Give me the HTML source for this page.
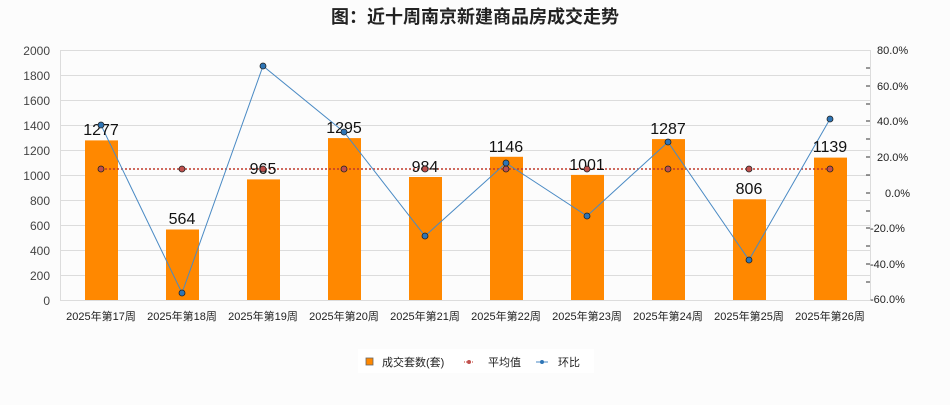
<!DOCTYPE html>
<html><head><meta charset="utf-8"><style>
body{margin:0;background:#fcfcfc;}
text{font-family:"Liberation Sans","Noto Sans CJK SC",sans-serif;}
</style></head><body>
<svg width="950" height="400" viewBox="0 0 950 400" xmlns="http://www.w3.org/2000/svg">
<rect width="950" height="400" fill="#fcfcfc"/>
<text x="475" y="23" text-anchor="middle" font-size="18" font-weight="bold" fill="#222">图：近十周南京新建商品房成交走势</text>
<g stroke="#dcdcdc" stroke-width="1">
<line x1="60" y1="50.5" x2="870" y2="50.5"/><line x1="60" y1="75.5" x2="870" y2="75.5"/><line x1="60" y1="100.5" x2="870" y2="100.5"/><line x1="60" y1="125.5" x2="870" y2="125.5"/><line x1="60" y1="150.5" x2="870" y2="150.5"/><line x1="60" y1="175.5" x2="870" y2="175.5"/><line x1="60" y1="200.5" x2="870" y2="200.5"/><line x1="60" y1="225.5" x2="870" y2="225.5"/><line x1="60" y1="250.5" x2="870" y2="250.5"/><line x1="60" y1="275.5" x2="870" y2="275.5"/><line x1="60" y1="300.5" x2="870" y2="300.5"/>
<line x1="60.5" y1="50" x2="60.5" y2="300"/><line x1="870.5" y1="50" x2="870.5" y2="300"/>
</g>
<g font-size="12" fill="#444" text-anchor="end">
<text x="50" y="55">2000</text><text x="50" y="80">1800</text><text x="50" y="105">1600</text><text x="50" y="130">1400</text><text x="50" y="155">1200</text><text x="50" y="180">1000</text><text x="50" y="205">800</text><text x="50" y="230">600</text><text x="50" y="255">400</text><text x="50" y="280">200</text><text x="50" y="305">0</text>
</g>
<g stroke="#333" stroke-width="1">
<line x1="866" y1="68" x2="870" y2="68"/><line x1="866" y1="86" x2="870" y2="86"/><line x1="866" y1="104" x2="870" y2="104"/><line x1="866" y1="121" x2="870" y2="121"/><line x1="866" y1="139" x2="870" y2="139"/><line x1="866" y1="157" x2="870" y2="157"/><line x1="866" y1="175" x2="870" y2="175"/><line x1="866" y1="193" x2="870" y2="193"/><line x1="866" y1="211" x2="870" y2="211"/><line x1="866" y1="228" x2="870" y2="228"/><line x1="866" y1="246" x2="870" y2="246"/><line x1="866" y1="264" x2="870" y2="264"/><line x1="866" y1="282" x2="870" y2="282"/>
</g>
<g font-size="11" fill="#222" font-family="Liberation Mono,monospace">
<text x="877" y="54">80.0%</text><text x="877" y="90">60.0%</text><text x="877" y="125">40.0%</text><text x="877" y="161">20.0%</text><text x="885" y="197">0.0%</text><text x="870" y="232">-20.0%</text><text x="870" y="268">-40.0%</text><text x="870" y="303">-60.0%</text>
</g>
<g fill="#ff8800">
<rect x="85" y="140.4" width="33" height="159.6"/><rect x="166" y="229.5" width="33" height="70.5"/><rect x="247" y="179.4" width="33" height="120.6"/><rect x="328" y="138.1" width="33" height="161.9"/><rect x="409" y="177" width="33" height="123"/><rect x="490" y="156.8" width="33" height="143.2"/><rect x="571" y="174.9" width="33" height="125.1"/><rect x="652" y="139.1" width="33" height="160.9"/><rect x="733" y="199.3" width="33" height="100.7"/><rect x="814" y="157.6" width="33" height="142.4"/>
</g>
<line x1="101" y1="169" x2="830" y2="169" stroke="#c0392b" stroke-width="1.5" stroke-dasharray="2,2"/>
<polyline points="101,125 182,293 263,66 344,132 425,236 506,163 587,216 668,142 749,260 830,119" fill="none" stroke="#4a8ac4" stroke-width="1"/>
<g font-size="16" fill="#111" text-anchor="middle">
<text x="101" y="135">1277</text><text x="182" y="224">564</text><text x="263" y="174">965</text><text x="344" y="133">1295</text><text x="425" y="172">984</text><text x="506" y="152">1146</text><text x="587" y="170">1001</text><text x="668" y="134">1287</text><text x="749" y="194">806</text><text x="830" y="152">1139</text>
</g>
<g fill="#c0504d" stroke="#222" stroke-width="0.8">
<circle cx="101" cy="169" r="3"/><circle cx="182" cy="169" r="3"/><circle cx="263" cy="169" r="3"/><circle cx="344" cy="169" r="3"/><circle cx="425" cy="169" r="3"/><circle cx="506" cy="169" r="3"/><circle cx="587" cy="169" r="3"/><circle cx="668" cy="169" r="3"/><circle cx="749" cy="169" r="3"/><circle cx="830" cy="169" r="3"/>
</g>
<g fill="#2e75b6" stroke="#222" stroke-width="0.8">
<circle cx="101" cy="125" r="3"/><circle cx="182" cy="293" r="3"/><circle cx="263" cy="66" r="3"/><circle cx="344" cy="132" r="3"/><circle cx="425" cy="236" r="3"/><circle cx="506" cy="163" r="3"/><circle cx="587" cy="216" r="3"/><circle cx="668" cy="142" r="3"/><circle cx="749" cy="260" r="3"/><circle cx="830" cy="119" r="3"/>
</g>
<g font-size="11" fill="#222" text-anchor="middle">
<text x="101" y="320">2025年第17周</text><text x="182" y="320">2025年第18周</text><text x="263" y="320">2025年第19周</text><text x="344" y="320">2025年第20周</text><text x="425" y="320">2025年第21周</text><text x="506" y="320">2025年第22周</text><text x="587" y="320">2025年第23周</text><text x="668" y="320">2025年第24周</text><text x="749" y="320">2025年第25周</text><text x="830" y="320">2025年第26周</text>
</g>
<rect x="358" y="349" width="236" height="24" fill="#fff"/>
<rect x="366" y="358" width="7" height="7" fill="#ff8800" stroke="#666" stroke-width="0.8"/>
<text x="382" y="366" font-size="11" fill="#222">成交套数(套)</text>
<line x1="464" y1="362" x2="474" y2="362" stroke="#c0392b" stroke-dasharray="1,1"/>
<circle cx="469" cy="362" r="2" fill="#c0504d"/>
<text x="488" y="366" font-size="11" fill="#222">平均值</text>
<line x1="536" y1="362" x2="548" y2="362" stroke="#4a8ac4"/>
<circle cx="542" cy="362" r="2" fill="#2e75b6"/>
<text x="558" y="366" font-size="11" fill="#222">环比</text>
</svg>
</body></html>
